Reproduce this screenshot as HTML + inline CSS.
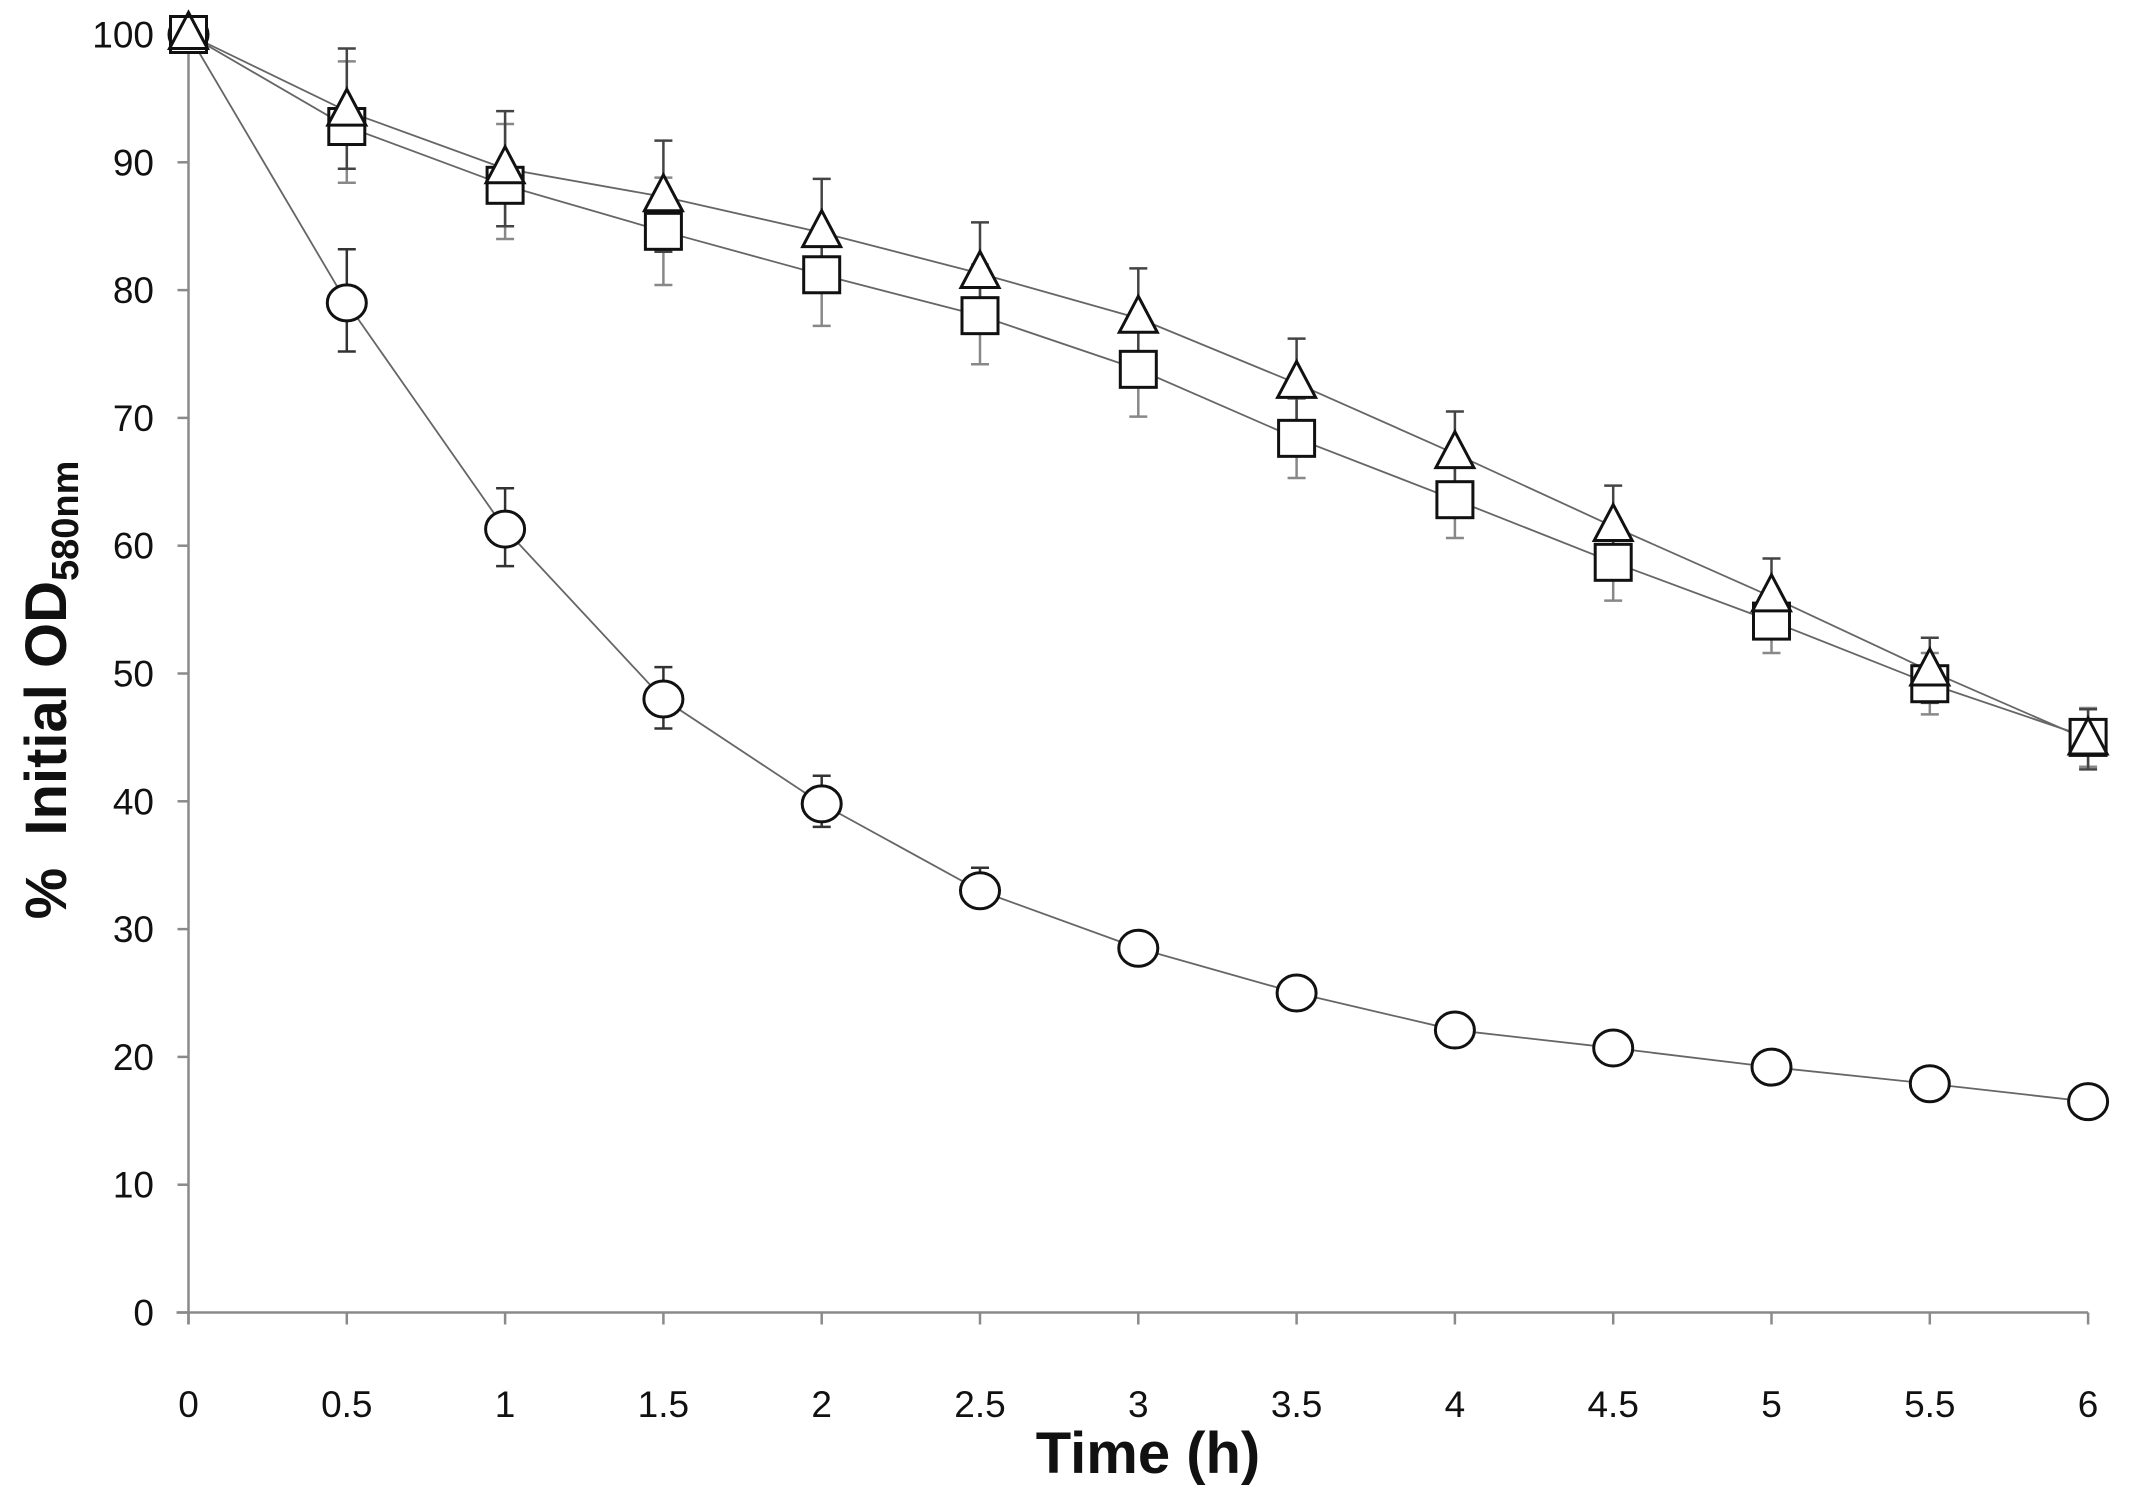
<!DOCTYPE html>
<html><head><meta charset="utf-8"><style>
html,body{margin:0;padding:0;background:#fff;}
svg{display:block;}
text{font-family:"Liberation Sans",Arial,sans-serif;fill:#111;}
</style></head><body>
<svg id="s" width="2130" height="1503" viewBox="0 0 2130 1503" xmlns="http://www.w3.org/2000/svg">
<g id="axes" stroke="#8a8a8a" stroke-width="2.5" fill="none"></g>
<g id="labels" font-size="37"></g>
<text x="1148" y="1473" font-size="58" font-weight="bold" text-anchor="middle">Time (h)</text>
<text transform="translate(66,690) rotate(-90)" font-size="58" font-weight="bold" text-anchor="middle" xml:space="preserve">%  Initial OD<tspan font-size="38" dy="12">580nm</tspan></text>
<g id="data"></g>
</svg>
<script>
var NS="http://www.w3.org/2000/svg";
function X(t){return 188.5+t*316.6;}
function Y(v){return 1312.5-v*12.78;}
function el(p,n,a,txt){var e=document.createElementNS(NS,n);for(var k in a)e.setAttribute(k,a[k]);if(txt!=null)e.textContent=txt;p.appendChild(e);return e;}
var ax=document.getElementById('axes'),lb=document.getElementById('labels'),dg=document.getElementById('data');
el(ax,'line',{x1:X(0),y1:Y(100),x2:X(0),y2:Y(0)+12});
el(ax,'line',{x1:X(0)-12,y1:Y(0),x2:X(6),y2:Y(0)});
for(var v=0;v<=100;v+=10){el(ax,'line',{x1:X(0)-11,y1:Y(v),x2:X(0),y2:Y(v)});el(lb,'text',{x:154,y:Y(v)+13,'text-anchor':'end'},String(v));}
for(var i=0;i<=12;i++){var t=i/2;el(ax,'line',{x1:X(t),y1:Y(0),x2:X(t),y2:Y(0)+12});el(lb,'text',{x:X(t),y:1417,'text-anchor':'middle'},String(t));}
var T=[0,0.5,1,1.5,2,2.5,3,3.5,4,4.5,5,5.5,6];
var C=[100,79,61.3,48,39.8,33,28.5,25,22.1,20.7,19.2,17.9,16.5];
var Ce=[[100,100],[75.2,83.2],[58.4,64.5],[45.7,50.5],[38,42],[33,34.8],[28.5,28.5],[25,25],[22,22],[20.7,20.7],[19.2,19.2],[17.9,17.9],[16.5,16.5]];
var S=[100,92.8,88.2,84.6,81.2,78,73.8,68.4,63.6,58.7,54.1,49.2,45];
var Se=[[95,100],[88.4,97.9],[84,93],[80.4,88.8],[77.2,85],[74.2,82],[70.1,77.6],[65.3,71.5],[60.6,66.6],[55.7,61.7],[51.6,56.6],[46.8,51.6],[42.7,47.3]];
var R=[100,94,89.5,87.3,84.5,81.3,77.8,72.7,67.2,61.5,56,50.2,44.8];
var Re=[[100,100],[89.5,98.9],[85,94],[83,91.7],[80.4,88.7],[77.5,85.3],[74,81.7],[69.5,76.2],[64,70.5],[58.5,64.7],[53,59],[47.7,52.8],[42.5,47.2]];
function line(d,col){var p='';for(var i=0;i<T.length;i++)p+=(i?'L':'M')+X(T[i])+' '+Y(d[i]);el(dg,'path',{d:p,stroke:col,'stroke-width':1.8,fill:'none'});}
function err(e,col){for(var i=1;i<T.length;i++){var x=X(T[i]),a=Y(e[i][0]),b=Y(e[i][1]);if(Math.abs(a-b)<2)continue;el(dg,'line',{x1:x,y1:a,x2:x,y2:b,stroke:col,'stroke-width':2.5});el(dg,'line',{x1:x-9,y1:a,x2:x+9,y2:a,stroke:col,'stroke-width':2.5});el(dg,'line',{x1:x-9,y1:b,x2:x+9,y2:b,stroke:col,'stroke-width':2.5});}}
line(C,'#666');line(S,'#666');line(R,'#666');
err(Ce,'#333');err(Se,'#888');err(Re,'#444');
for(var i=0;i<T.length;i++){
 el(dg,'ellipse',{cx:X(T[i]),cy:Y(C[i]),rx:19.5,ry:18,fill:'#fff',stroke:'#111','stroke-width':3});
}
for(var i=0;i<T.length;i++){
 var x=X(T[i]),y=Y(S[i]);el(dg,'rect',{x:x-18,y:y-18,width:36,height:36,fill:'#fff',stroke:'#111','stroke-width':3});
}
for(var i=0;i<T.length;i++){
 var x=X(T[i]),y=Y(R[i]);var f=(i==0||i==12)?'none':'#fff';
 el(dg,'polygon',{points:(x)+','+(y-22)+' '+(x+19)+','+(y+14)+' '+(x-19)+','+(y+14),fill:f,stroke:'#111','stroke-width':3});
}
</script>
</body></html>
